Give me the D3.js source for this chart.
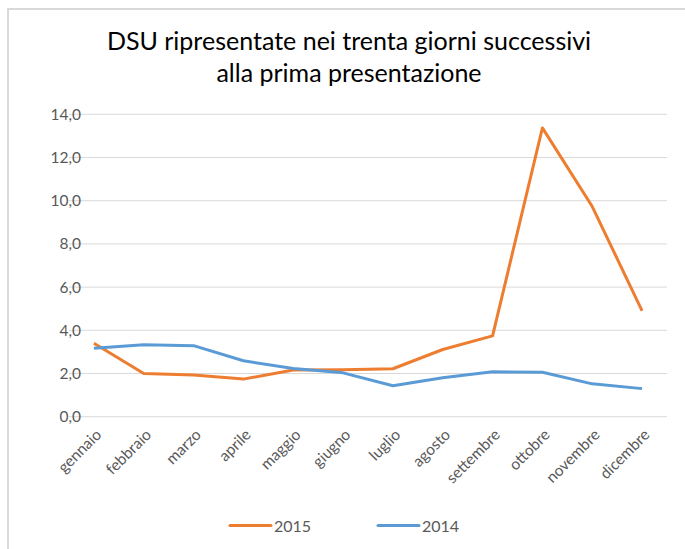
<!DOCTYPE html>
<html>
<head>
<meta charset="utf-8">
<script src="https://cdn.jsdelivr.net/npm/d3@7"></script>
<style>
body { margin: 0; background: #fff; }
svg { display: block; }
text { font-family: Lato, "Open Sans", sans-serif; }
</style>
</head>
<body>
<svg id="chart" width="685" height="549"></svg>
<script>
const months = ["gennaio","febbraio","marzo","aprile","maggio","giugno","luglio","agosto","settembre","ottobre","novembre","dicembre"];
const values2015 = [3.4, 2.0, 1.93, 1.74, 2.16, 2.17, 2.22, 3.11, 3.74, 13.37, 9.73, 4.9];
const values2014 = [3.17, 3.33, 3.29, 2.59, 2.23, 2.03, 1.43, 1.8, 2.08, 2.06, 1.52, 1.3];
const yTicks = [0, 2, 4, 6, 8, 10, 12, 14];
const titleLines = ["DSU ripresentate nei trenta giorni successivi", "alla prima presentazione"];
const seriesNames = ["2015", "2014"];
const seriesColors = ["#ed7d31", "#5b9bd5"];

(function () {
const svg = d3.select("#chart");

// frame
svg.append("path")
  .attr("d", "M8,549 L8,9 L685,9")
  .attr("fill", "none")
  .attr("stroke", "#d9d9d9")
  .attr("stroke-width", 2);

const pLeft = 69, pRight = 667, pTop = 114.3, pBottom = 416.7;
const x = d3.scalePoint().domain(months).range([pLeft, pRight]).padding(0.5);
const y = d3.scaleLinear().domain([0, 14]).range([pBottom, pTop]);

// title
svg.append("g").selectAll("text").data(titleLines).join("text")
  .attr("x", 349)
  .attr("y", (d, i) => 49.5 + i * 32.2)
  .attr("text-anchor", "middle")
  .attr("font-size", 25)
  .attr("fill", "#000")
  .text(d => d);

// gridlines
svg.append("g").selectAll("line").data(yTicks).join("line")
  .attr("x1", pLeft).attr("x2", pRight)
  .attr("y1", d => y(d)).attr("y2", d => y(d))
  .attr("stroke", "#d9d9d9").attr("stroke-width", 1);

// y axis labels
const fmt = d => d.toFixed(1).replace(".", ",");
const yAxis = d3.axisLeft(y).tickValues(yTicks).tickFormat(fmt).tickSize(0).tickPadding(0);
const gy = svg.append("g").attr("transform", "translate(81,0)").call(yAxis);
gy.select(".domain").remove();
gy.selectAll("text").attr("font-size", 15.5).attr("fill", "#595959").attr("font-family", "Lato, sans-serif");

// x axis labels
const xAxis = d3.axisBottom(x).tickSize(0).tickPadding(0);
const gx = svg.append("g").attr("transform", `translate(0,${pBottom})`).call(xAxis);
gx.select(".domain").remove();
gx.selectAll("text")
  .attr("font-size", 15.5)
  .attr("fill", "#595959")
  .attr("font-family", "Lato, sans-serif")
  .attr("text-anchor", "end")
  .attr("dy", null)
  .attr("transform", "translate(8,19) rotate(-45)")
  .attr("y", 0).attr("x", 0);

// lines
const line = d3.line().x((d, i) => x(months[i])).y(d => y(d));
[values2015, values2014].forEach((vals, k) => {
  svg.append("path")
    .datum(vals)
    .attr("fill", "none")
    .attr("stroke", seriesColors[k])
    .attr("stroke-width", 3)
    .attr("stroke-linejoin", "round")
    .attr("d", line);
});

// legend
const legendX = [230, 378];
const lg = svg.append("g");
seriesNames.forEach((name, k) => {
  lg.append("line")
    .attr("x1", legendX[k]).attr("x2", legendX[k] + 41)
    .attr("y1", 525.5).attr("y2", 525.5)
    .attr("stroke", seriesColors[k]).attr("stroke-width", 3).attr("stroke-linecap", "round");
  lg.append("text")
    .attr("x", legendX[k] + 44).attr("y", 531.5)
    .attr("font-size", 16)
    .attr("fill", "#595959")
    .text(name);
});
})();
</script>
</body>
</html>
